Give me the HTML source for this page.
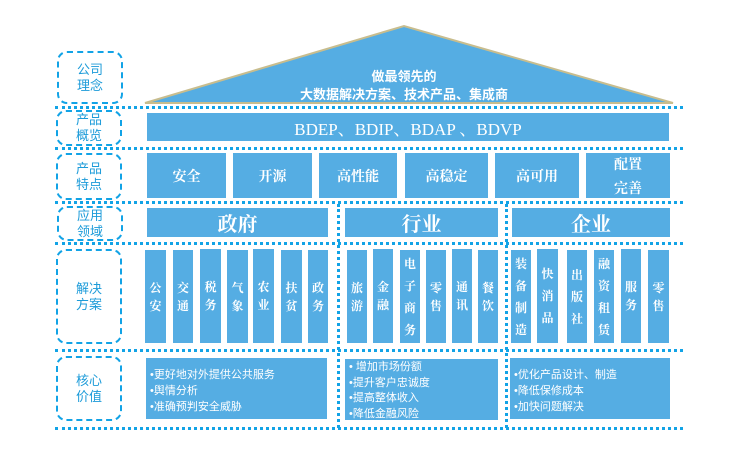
<!DOCTYPE html>
<html><head><meta charset="utf-8"><style>
body{margin:0;width:730px;height:453px;background:#fff;position:relative;overflow:hidden;font-family:"Liberation Sans","Noto Sans CJK SC",sans-serif}
.a{position:absolute}
.b{position:absolute;background:#55ade3;color:#fff;display:flex;align-items:center;justify-content:center;text-align:center;font-weight:bold}
.h{position:absolute;left:55px;width:628px;height:0;border-top:3px dotted #12a3e6}
.v{position:absolute;top:204px;height:224px;width:0;border-left:3px dotted #12a3e6}
.l{position:absolute;left:57px;width:66px;border:2px dashed #12a3e6;border-radius:10px;color:#1c9bd9;font-size:13px;line-height:16px;display:flex;align-items:center;justify-content:center;text-align:center;box-sizing:border-box}
.c{font-size:12px;line-height:18px;font-family:"Noto Serif CJK SC",serif}
.t{position:absolute;background:#55ade3;color:#fff;font-size:11px;line-height:13px;padding:6px 0 0 4px;box-sizing:border-box}
</style></head><body>
<svg class="a" style="left:0;top:0" width="730" height="110">
<polygon points="145,103 404,26 673,103" fill="#55ade3" stroke="#c8bd8e" stroke-width="2"/>
<text x="404" y="81" fill="#fff" font-size="13" font-weight="bold" text-anchor="middle" font-family="Liberation Sans,Noto Sans CJK SC,sans-serif">做最领先的</text>
<text x="404" y="99" fill="#fff" font-size="13" font-weight="bold" text-anchor="middle" font-family="Liberation Sans,Noto Sans CJK SC,sans-serif">大数据解决方案、技术产品、集成商</text>
</svg>
<div class="h" style="top:106px"></div>
<div class="h" style="top:147px"></div>
<div class="h" style="top:201px"></div>
<div class="h" style="top:242px"></div>
<div class="h" style="top:349px"></div>
<div class="h" style="top:427px"></div>
<div class="v" style="left:337px"></div>
<div class="v" style="left:505px"></div>

<div class="l" style="top:51px;height:53px">公司<br>理念</div>
<div class="l" style="top:110px;height:36px;left:56px">产品<br>概览</div>
<div class="l" style="top:153px;height:47px;left:56px">产品<br>特点</div>
<div class="l" style="top:206px;height:35px">应用<br>领域</div>
<div class="l" style="top:249px;height:95px;left:56px">解决<br>方案</div>
<div class="l" style="top:356px;height:65px;left:56px">核心<br>价值</div>

<div class="b" style="left:147px;top:113px;width:522px;height:28px;font-family:'Liberation Serif','Noto Serif CJK SC',serif;font-weight:normal;font-size:17px">BDEP、BDIP、BDAP 、BDVP</div>

<div class="b c" style="left:147px;top:153px;width:79px;height:45px;font-size:14px">安全</div>
<div class="b c" style="left:233px;top:153px;width:79px;height:45px;font-size:14px">开源</div>
<div class="b c" style="left:319px;top:153px;width:78px;height:45px;font-size:14px">高性能</div>
<div class="b c" style="left:405px;top:153px;width:83px;height:45px;font-size:14px">高稳定</div>
<div class="b c" style="left:495px;top:153px;width:84px;height:45px;font-size:14px">高可用</div>
<div class="b c" style="left:586px;top:153px;width:84px;height:45px;font-size:14px;line-height:24px">配置<br>完善</div>

<div class="b c" style="left:147px;top:208px;width:181px;height:29px;font-size:20px">政府</div>
<div class="b c" style="left:345px;top:208px;width:153px;height:29px;font-size:20px">行业</div>
<div class="b c" style="left:512px;top:208px;width:158px;height:29px;font-size:20px">企业</div>

<div class="b c" style="left:145px;top:250px;width:21px;height:93px">公<br>安</div>
<div class="b c" style="left:173px;top:250px;width:20px;height:93px">交<br>通</div>
<div class="b c" style="left:200px;top:249px;width:21px;height:94px">税<br>务</div>
<div class="b c" style="left:227px;top:250px;width:21px;height:93px">气<br>象</div>
<div class="b c" style="left:253px;top:249px;width:21px;height:94px">农<br>业</div>
<div class="b c" style="left:281px;top:250px;width:21px;height:93px">扶<br>贫</div>
<div class="b c" style="left:308px;top:250px;width:20px;height:93px">政<br>务</div>

<div class="b c" style="left:347px;top:250px;width:20px;height:93px">旅<br>游</div>
<div class="b c" style="left:373px;top:249px;width:20px;height:94px">金<br>融</div>
<div class="b c" style="left:400px;top:250px;width:20px;height:93px;line-height:22px">电<br>子<br>商<br>务</div>
<div class="b c" style="left:426px;top:250px;width:20px;height:93px">零<br>售</div>
<div class="b c" style="left:452px;top:249px;width:20px;height:94px">通<br>讯</div>
<div class="b c" style="left:478px;top:250px;width:20px;height:93px">餐<br>饮</div>

<div class="b c" style="left:511px;top:250px;width:20px;height:93px;line-height:22px">装<br>备<br>制<br>造</div>
<div class="b c" style="left:537px;top:249px;width:21px;height:94px;line-height:22px">快<br>消<br>品</div>
<div class="b c" style="left:567px;top:250px;width:20px;height:93px;line-height:22px">出<br>版<br>社</div>
<div class="b c" style="left:594px;top:250px;width:20px;height:93px;line-height:22px">融<br>资<br>租<br>赁</div>
<div class="b c" style="left:621px;top:249px;width:20px;height:94px">服<br>务</div>
<div class="b c" style="left:648px;top:250px;width:21px;height:93px">零<br>售</div>

<div class="t" style="left:146px;top:358px;width:181px;height:61px;padding-top:9px;line-height:16px">•更好地对外提供公共服务<br>•舆情分析<br>•准确预判安全威胁</div>
<div class="t" style="left:345px;top:359px;width:153px;height:61px;padding-top:1px;line-height:15.5px">• 增加市场份额<br>•提升客户忠诚度<br>•提高整体收入<br>•降低金融风险</div>
<div class="t" style="left:510px;top:358px;width:160px;height:61px;padding-top:9px;line-height:16px">•优化产品设计、制造<br>•降低保修成本<br>•加快问题解决</div>
</body></html>
